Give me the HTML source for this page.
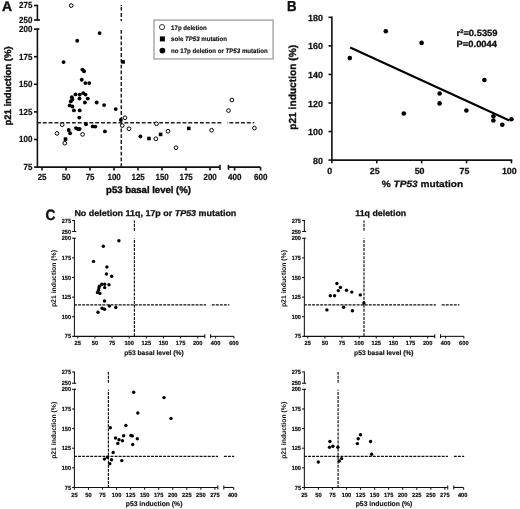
<!DOCTYPE html>
<html><head><meta charset="utf-8"><style>
html,body{margin:0;padding:0;background:#fff;}
svg{display:block;will-change:transform;}
text{font-family:"Liberation Sans",sans-serif;fill:#111;text-rendering:geometricPrecision;}
</style></head><body>
<svg width="520" height="509" viewBox="0 0 520 509">
<rect width="520" height="509" fill="#fff"/>
<line x1="37.40" y1="28.30" x2="37.40" y2="167.90" stroke="#111" stroke-width="1.6"/>
<line x1="37.40" y1="4.70" x2="37.40" y2="20.80" stroke="#111" stroke-width="1.6"/>
<line x1="34.00" y1="167.10" x2="37.40" y2="167.10" stroke="#111" stroke-width="1.6"/>
<text transform="translate(32.45,170.00) scale(0.9,1)" font-size="8.9" font-weight="bold" text-anchor="end" stroke="#111" stroke-width="0.22" >75</text>
<line x1="34.00" y1="139.50" x2="37.40" y2="139.50" stroke="#111" stroke-width="1.6"/>
<text transform="translate(32.45,142.40) scale(0.9,1)" font-size="8.9" font-weight="bold" text-anchor="end" stroke="#111" stroke-width="0.22" >100</text>
<line x1="34.00" y1="111.90" x2="37.40" y2="111.90" stroke="#111" stroke-width="1.6"/>
<text transform="translate(32.45,114.80) scale(0.9,1)" font-size="8.9" font-weight="bold" text-anchor="end" stroke="#111" stroke-width="0.22" >125</text>
<line x1="34.00" y1="84.30" x2="37.40" y2="84.30" stroke="#111" stroke-width="1.6"/>
<text transform="translate(32.45,87.20) scale(0.9,1)" font-size="8.9" font-weight="bold" text-anchor="end" stroke="#111" stroke-width="0.22" >150</text>
<line x1="34.00" y1="56.70" x2="37.40" y2="56.70" stroke="#111" stroke-width="1.6"/>
<text transform="translate(32.45,59.60) scale(0.9,1)" font-size="8.9" font-weight="bold" text-anchor="end" stroke="#111" stroke-width="0.22" >175</text>
<line x1="34.00" y1="29.10" x2="37.40" y2="29.10" stroke="#111" stroke-width="1.6"/>
<text transform="translate(32.45,32.00) scale(0.9,1)" font-size="8.9" font-weight="bold" text-anchor="end" stroke="#111" stroke-width="0.22" >200</text>
<line x1="34.00" y1="5.50" x2="37.40" y2="5.50" stroke="#111" stroke-width="1.6"/>
<text transform="translate(32.45,8.40) scale(0.9,1)" font-size="8.9" font-weight="bold" text-anchor="end" stroke="#111" stroke-width="0.22" >275</text>
<line x1="34.00" y1="20.00" x2="37.40" y2="20.00" stroke="#111" stroke-width="1.6"/>
<text transform="translate(32.45,22.90) scale(0.9,1)" font-size="8.9" font-weight="bold" text-anchor="end" stroke="#111" stroke-width="0.22" >250</text>
<line x1="37.40" y1="20.00" x2="40.00" y2="20.00" stroke="#111" stroke-width="1.6"/>
<line x1="37.40" y1="29.10" x2="39.40" y2="29.10" stroke="#111" stroke-width="1.6"/>
<line x1="36.60" y1="167.10" x2="220.00" y2="167.10" stroke="#111" stroke-width="1.6"/>
<line x1="220.00" y1="164.80" x2="220.00" y2="169.90" stroke="#111" stroke-width="1.6"/>
<line x1="228.50" y1="167.10" x2="260.60" y2="167.10" stroke="#111" stroke-width="1.6"/>
<line x1="228.50" y1="164.80" x2="228.50" y2="169.90" stroke="#111" stroke-width="1.6"/>
<line x1="42.00" y1="167.10" x2="42.00" y2="170.50" stroke="#111" stroke-width="1.6"/>
<text transform="translate(42.10,179.60) scale(0.9,1)" font-size="8.9" font-weight="bold" text-anchor="middle" stroke="#111" stroke-width="0.22" >25</text>
<line x1="66.00" y1="167.10" x2="66.00" y2="170.50" stroke="#111" stroke-width="1.6"/>
<text transform="translate(66.10,179.60) scale(0.9,1)" font-size="8.9" font-weight="bold" text-anchor="middle" stroke="#111" stroke-width="0.22" >50</text>
<line x1="90.00" y1="167.10" x2="90.00" y2="170.50" stroke="#111" stroke-width="1.6"/>
<text transform="translate(90.10,179.60) scale(0.9,1)" font-size="8.9" font-weight="bold" text-anchor="middle" stroke="#111" stroke-width="0.22" >75</text>
<line x1="114.00" y1="167.10" x2="114.00" y2="170.50" stroke="#111" stroke-width="1.6"/>
<text transform="translate(114.10,179.60) scale(0.9,1)" font-size="8.9" font-weight="bold" text-anchor="middle" stroke="#111" stroke-width="0.22" >100</text>
<line x1="138.00" y1="167.10" x2="138.00" y2="170.50" stroke="#111" stroke-width="1.6"/>
<text transform="translate(138.10,179.60) scale(0.9,1)" font-size="8.9" font-weight="bold" text-anchor="middle" stroke="#111" stroke-width="0.22" >125</text>
<line x1="162.00" y1="167.10" x2="162.00" y2="170.50" stroke="#111" stroke-width="1.6"/>
<text transform="translate(162.10,179.60) scale(0.9,1)" font-size="8.9" font-weight="bold" text-anchor="middle" stroke="#111" stroke-width="0.22" >150</text>
<line x1="186.00" y1="167.10" x2="186.00" y2="170.50" stroke="#111" stroke-width="1.6"/>
<text transform="translate(186.10,179.60) scale(0.9,1)" font-size="8.9" font-weight="bold" text-anchor="middle" stroke="#111" stroke-width="0.22" >175</text>
<line x1="210.00" y1="167.10" x2="210.00" y2="170.50" stroke="#111" stroke-width="1.6"/>
<text transform="translate(210.10,179.60) scale(0.9,1)" font-size="8.9" font-weight="bold" text-anchor="middle" stroke="#111" stroke-width="0.22" >200</text>
<line x1="234.60" y1="167.10" x2="234.60" y2="170.50" stroke="#111" stroke-width="1.6"/>
<text transform="translate(234.70,179.60) scale(0.9,1)" font-size="8.9" font-weight="bold" text-anchor="middle" stroke="#111" stroke-width="0.22" >400</text>
<line x1="260.60" y1="167.10" x2="260.60" y2="170.50" stroke="#111" stroke-width="1.6"/>
<text transform="translate(260.70,179.60) scale(0.9,1)" font-size="8.9" font-weight="bold" text-anchor="middle" stroke="#111" stroke-width="0.22" >600</text>
<text x="148.50" y="193.00" font-size="9.55" font-weight="bold" text-anchor="middle" stroke="#111" stroke-width="0.4" >p53 basal level (%)</text>
<text transform="translate(11.0,86.0) rotate(-90)" font-size="9.5" font-weight="bold" text-anchor="middle" stroke="#111" stroke-width="0.4">p21 induction (%)</text>
<line x1="37.00" y1="122.80" x2="221.30" y2="122.80" stroke="#222" stroke-width="1.5" stroke-dasharray="3.9,1.92"/>
<line x1="227.10" y1="122.80" x2="254.20" y2="122.80" stroke="#222" stroke-width="1.5" stroke-dasharray="3.9,1.92" stroke-dashoffset="3.5"/>
<line x1="121.30" y1="167.10" x2="121.30" y2="29.50" stroke="#222" stroke-width="1.5" stroke-dasharray="3.8,2.0"/>
<line x1="121.30" y1="5.10" x2="121.30" y2="21.00" stroke="#222" stroke-width="1.5" stroke-dasharray="0.8,1.2,3.5,2.4,3.9,2.0,2"/>
<rect x="154.0" y="20.1" width="119.1" height="38.85" fill="#fff" stroke="#a0a0a0" stroke-width="1.35"/>
<circle cx="162.05" cy="27.10" r="2.6" fill="#fff" stroke="#000" stroke-width="0.75"/>
<rect x="159.90" y="36.40" width="5.0" height="5.0" fill="#000"/>
<circle cx="162.40" cy="50.60" r="2.85" fill="#000"/>
<text transform="translate(171.10,29.70) scale(1,1.05)" font-size="6.1" font-weight="bold" text-anchor="start" stroke="#111" stroke-width="0.15" >17p deletion</text>
<text transform="translate(171.10,41.30) scale(1,1.05)" font-size="6.1" font-weight="bold" text-anchor="start" stroke="#111" stroke-width="0.15" >sole <tspan font-style="italic">TP53</tspan> mutation</text>
<text transform="translate(171.10,53.10) scale(1.005,1.05)" font-size="6.1" font-weight="bold" text-anchor="start" stroke="#111" stroke-width="0.15" >no 17p deletion or <tspan font-style="italic">TP53</tspan> mutation</text>
<text x="2.05" y="10.50" font-size="14" font-weight="bold" text-anchor="start" stroke="#111" stroke-width="0.4" >A</text>
<circle cx="71.20" cy="5.60" r="1.85" fill="#fff" stroke="#000" stroke-width="1.0"/>
<circle cx="62.20" cy="124.70" r="1.85" fill="#fff" stroke="#000" stroke-width="1.0"/>
<circle cx="57.00" cy="133.40" r="1.85" fill="#fff" stroke="#000" stroke-width="1.0"/>
<circle cx="64.80" cy="143.20" r="1.85" fill="#fff" stroke="#000" stroke-width="1.0"/>
<circle cx="82.60" cy="134.40" r="1.85" fill="#fff" stroke="#000" stroke-width="1.0"/>
<circle cx="125.00" cy="117.75" r="1.85" fill="#fff" stroke="#000" stroke-width="1.0"/>
<circle cx="122.25" cy="125.60" r="1.85" fill="#fff" stroke="#000" stroke-width="1.0"/>
<circle cx="129.00" cy="128.75" r="1.85" fill="#fff" stroke="#000" stroke-width="1.0"/>
<circle cx="156.50" cy="123.75" r="1.85" fill="#fff" stroke="#000" stroke-width="1.0"/>
<circle cx="155.90" cy="138.75" r="1.85" fill="#fff" stroke="#000" stroke-width="1.0"/>
<circle cx="168.00" cy="131.25" r="1.85" fill="#fff" stroke="#000" stroke-width="1.0"/>
<circle cx="176.00" cy="147.75" r="1.85" fill="#fff" stroke="#000" stroke-width="1.0"/>
<circle cx="211.60" cy="130.25" r="1.85" fill="#fff" stroke="#000" stroke-width="1.0"/>
<circle cx="231.90" cy="100.00" r="1.85" fill="#fff" stroke="#000" stroke-width="1.0"/>
<circle cx="228.50" cy="110.60" r="1.85" fill="#fff" stroke="#000" stroke-width="1.0"/>
<circle cx="254.40" cy="128.10" r="1.85" fill="#fff" stroke="#000" stroke-width="1.0"/>
<rect x="121.30" y="60.10" width="3.6" height="3.6" fill="#000"/>
<rect x="63.70" y="137.30" width="3.6" height="3.6" fill="#000"/>
<rect x="147.20" y="136.70" width="3.6" height="3.6" fill="#000"/>
<rect x="158.80" y="132.60" width="3.6" height="3.6" fill="#000"/>
<rect x="186.95" y="126.60" width="3.6" height="3.6" fill="#000"/>
<circle cx="77.25" cy="40.75" r="1.95" fill="#000"/>
<circle cx="99.60" cy="33.10" r="1.95" fill="#000"/>
<circle cx="63.60" cy="62.10" r="1.95" fill="#000"/>
<circle cx="82.40" cy="69.60" r="1.95" fill="#000"/>
<circle cx="84.00" cy="71.25" r="1.95" fill="#000"/>
<circle cx="81.75" cy="79.75" r="1.95" fill="#000"/>
<circle cx="85.40" cy="83.10" r="1.95" fill="#000"/>
<circle cx="89.25" cy="83.10" r="1.95" fill="#000"/>
<circle cx="75.50" cy="94.40" r="1.95" fill="#000"/>
<circle cx="79.70" cy="94.60" r="1.95" fill="#000"/>
<circle cx="83.20" cy="93.10" r="1.95" fill="#000"/>
<circle cx="85.50" cy="94.60" r="1.95" fill="#000"/>
<circle cx="71.80" cy="97.30" r="1.95" fill="#000"/>
<circle cx="72.40" cy="99.60" r="1.95" fill="#000"/>
<circle cx="70.80" cy="101.40" r="1.95" fill="#000"/>
<circle cx="79.50" cy="98.50" r="1.95" fill="#000"/>
<circle cx="87.80" cy="98.60" r="1.95" fill="#000"/>
<circle cx="84.90" cy="102.50" r="1.95" fill="#000"/>
<circle cx="96.70" cy="102.50" r="1.95" fill="#000"/>
<circle cx="69.70" cy="105.40" r="1.95" fill="#000"/>
<circle cx="72.40" cy="106.50" r="1.95" fill="#000"/>
<circle cx="73.90" cy="110.40" r="1.95" fill="#000"/>
<circle cx="79.70" cy="110.40" r="1.95" fill="#000"/>
<circle cx="79.30" cy="117.60" r="1.95" fill="#000"/>
<circle cx="104.10" cy="105.10" r="1.95" fill="#000"/>
<circle cx="115.70" cy="109.10" r="1.95" fill="#000"/>
<circle cx="120.90" cy="120.00" r="1.95" fill="#000"/>
<circle cx="86.00" cy="124.30" r="1.95" fill="#000"/>
<circle cx="76.00" cy="128.10" r="1.95" fill="#000"/>
<circle cx="77.80" cy="129.00" r="1.95" fill="#000"/>
<circle cx="79.60" cy="129.00" r="1.95" fill="#000"/>
<circle cx="92.70" cy="126.40" r="1.95" fill="#000"/>
<circle cx="95.30" cy="126.60" r="1.95" fill="#000"/>
<circle cx="68.70" cy="130.00" r="1.95" fill="#000"/>
<circle cx="70.10" cy="133.20" r="1.95" fill="#000"/>
<circle cx="140.40" cy="136.50" r="1.95" fill="#000"/>
<circle cx="104.90" cy="131.40" r="1.95" fill="#000"/>
<line x1="331.90" y1="16.55" x2="331.90" y2="160.90" stroke="#111" stroke-width="1.6"/>
<line x1="328.50" y1="160.10" x2="331.90" y2="160.10" stroke="#111" stroke-width="1.6"/>
<text x="322.90" y="163.60" font-size="8.9" font-weight="bold" text-anchor="end" stroke="#111" stroke-width="0.25" >80</text>
<line x1="328.50" y1="131.55" x2="331.90" y2="131.55" stroke="#111" stroke-width="1.6"/>
<text x="322.90" y="135.05" font-size="8.9" font-weight="bold" text-anchor="end" stroke="#111" stroke-width="0.25" >100</text>
<line x1="328.50" y1="103.00" x2="331.90" y2="103.00" stroke="#111" stroke-width="1.6"/>
<text x="322.90" y="106.50" font-size="8.9" font-weight="bold" text-anchor="end" stroke="#111" stroke-width="0.25" >120</text>
<line x1="328.50" y1="74.45" x2="331.90" y2="74.45" stroke="#111" stroke-width="1.6"/>
<text x="322.90" y="77.95" font-size="8.9" font-weight="bold" text-anchor="end" stroke="#111" stroke-width="0.25" >140</text>
<line x1="328.50" y1="45.90" x2="331.90" y2="45.90" stroke="#111" stroke-width="1.6"/>
<text x="322.90" y="49.40" font-size="8.9" font-weight="bold" text-anchor="end" stroke="#111" stroke-width="0.25" >160</text>
<line x1="328.50" y1="17.35" x2="331.90" y2="17.35" stroke="#111" stroke-width="1.6"/>
<text x="322.90" y="20.85" font-size="8.9" font-weight="bold" text-anchor="end" stroke="#111" stroke-width="0.25" >180</text>
<line x1="331.10" y1="160.10" x2="512.25" y2="160.10" stroke="#111" stroke-width="1.6"/>
<line x1="331.90" y1="160.10" x2="331.90" y2="163.30" stroke="#111" stroke-width="1.6"/>
<text x="329.80" y="173.50" font-size="8.9" font-weight="bold" text-anchor="middle" stroke="#111" stroke-width="0.25" >0</text>
<line x1="376.79" y1="160.10" x2="376.79" y2="163.30" stroke="#111" stroke-width="1.6"/>
<text x="374.69" y="173.50" font-size="8.9" font-weight="bold" text-anchor="middle" stroke="#111" stroke-width="0.25" >25</text>
<line x1="421.67" y1="160.10" x2="421.67" y2="163.30" stroke="#111" stroke-width="1.6"/>
<text x="419.57" y="173.50" font-size="8.9" font-weight="bold" text-anchor="middle" stroke="#111" stroke-width="0.25" >50</text>
<line x1="466.56" y1="160.10" x2="466.56" y2="163.30" stroke="#111" stroke-width="1.6"/>
<text x="464.46" y="173.50" font-size="8.9" font-weight="bold" text-anchor="middle" stroke="#111" stroke-width="0.25" >75</text>
<line x1="511.45" y1="160.10" x2="511.45" y2="163.30" stroke="#111" stroke-width="1.6"/>
<text x="509.35" y="173.50" font-size="8.9" font-weight="bold" text-anchor="middle" stroke="#111" stroke-width="0.25" >100</text>
<text transform="translate(422.50,186.50) scale(1,0.91)" font-size="10.1" font-weight="bold" text-anchor="middle" stroke="#111" stroke-width="0.3" >% <tspan font-style="italic">TP53</tspan> mutation</text>
<text transform="translate(295.6,87.35) rotate(-90)" font-size="10.2" font-weight="bold" text-anchor="middle" stroke="#111" stroke-width="0.35">p21 induction (%)</text>
<text transform="translate(456.60,35.70) scale(1,0.95)" font-size="9.4" font-weight="bold" text-anchor="start" stroke="#111" stroke-width="0.3" >r<tspan font-size="5.6" dy="-2.9">2</tspan><tspan dy="2.9">=0.5359</tspan></text>
<text transform="translate(456.60,46.90) scale(1,0.95)" font-size="9.4" font-weight="bold" text-anchor="start" stroke="#111" stroke-width="0.3" >P=0.0044</text>
<text transform="translate(286.95,11.15) scale(0.92,1.0)" font-size="14.4" font-weight="bold" text-anchor="start" stroke="#111" stroke-width="0.4" >B</text>
<line x1="350.20" y1="47.50" x2="509.40" y2="120.50" stroke="#000" stroke-width="2.1"/>
<circle cx="349.80" cy="58.10" r="2.3" fill="#000"/>
<circle cx="385.80" cy="31.20" r="2.3" fill="#000"/>
<circle cx="421.60" cy="42.90" r="2.3" fill="#000"/>
<circle cx="403.80" cy="113.50" r="2.3" fill="#000"/>
<circle cx="439.60" cy="93.50" r="2.3" fill="#000"/>
<circle cx="439.60" cy="103.40" r="2.3" fill="#000"/>
<circle cx="466.40" cy="110.50" r="2.3" fill="#000"/>
<circle cx="484.40" cy="80.00" r="2.3" fill="#000"/>
<circle cx="493.40" cy="116.30" r="2.3" fill="#000"/>
<circle cx="493.40" cy="120.50" r="2.3" fill="#000"/>
<circle cx="502.30" cy="124.80" r="2.3" fill="#000"/>
<circle cx="511.40" cy="119.20" r="2.3" fill="#000"/>
<text transform="translate(45.60,219.50) scale(0.91,1)" font-size="15" font-weight="bold" text-anchor="start" stroke="#111" stroke-width="0.4" >C</text>
<line x1="74.40" y1="237.75" x2="74.40" y2="336.85" stroke="#111" stroke-width="1.05"/>
<line x1="74.40" y1="220.00" x2="74.40" y2="232.00" stroke="#111" stroke-width="1.05"/>
<line x1="72.10" y1="336.35" x2="74.40" y2="336.35" stroke="#111" stroke-width="1.05"/>
<text transform="translate(71.05,338.40) scale(0.95,1)" font-size="5.9" font-weight="bold" text-anchor="end" stroke="#111" stroke-width="0.18" >75</text>
<line x1="72.10" y1="316.73" x2="74.40" y2="316.73" stroke="#111" stroke-width="1.05"/>
<text transform="translate(71.05,318.78) scale(0.95,1)" font-size="5.9" font-weight="bold" text-anchor="end" stroke="#111" stroke-width="0.18" >100</text>
<line x1="72.10" y1="297.11" x2="74.40" y2="297.11" stroke="#111" stroke-width="1.05"/>
<text transform="translate(71.05,299.16) scale(0.95,1)" font-size="5.9" font-weight="bold" text-anchor="end" stroke="#111" stroke-width="0.18" >125</text>
<line x1="72.10" y1="277.49" x2="74.40" y2="277.49" stroke="#111" stroke-width="1.05"/>
<text transform="translate(71.05,279.54) scale(0.95,1)" font-size="5.9" font-weight="bold" text-anchor="end" stroke="#111" stroke-width="0.18" >150</text>
<line x1="72.10" y1="257.87" x2="74.40" y2="257.87" stroke="#111" stroke-width="1.05"/>
<text transform="translate(71.05,259.92) scale(0.95,1)" font-size="5.9" font-weight="bold" text-anchor="end" stroke="#111" stroke-width="0.18" >175</text>
<line x1="72.10" y1="238.25" x2="74.40" y2="238.25" stroke="#111" stroke-width="1.05"/>
<text transform="translate(71.05,240.30) scale(0.95,1)" font-size="5.9" font-weight="bold" text-anchor="end" stroke="#111" stroke-width="0.18" >200</text>
<line x1="72.10" y1="220.50" x2="74.40" y2="220.50" stroke="#111" stroke-width="1.05"/>
<text transform="translate(71.05,222.55) scale(0.95,1)" font-size="5.9" font-weight="bold" text-anchor="end" stroke="#111" stroke-width="0.18" >275</text>
<line x1="72.10" y1="231.50" x2="74.40" y2="231.50" stroke="#111" stroke-width="1.05"/>
<text transform="translate(71.05,233.55) scale(0.95,1)" font-size="5.9" font-weight="bold" text-anchor="end" stroke="#111" stroke-width="0.18" >250</text>
<line x1="74.40" y1="231.50" x2="76.20" y2="231.50" stroke="#111" stroke-width="1.05"/>
<line x1="74.40" y1="238.25" x2="75.90" y2="238.25" stroke="#111" stroke-width="1.05"/>
<line x1="73.80" y1="336.35" x2="204.80" y2="336.35" stroke="#111" stroke-width="1.05"/>
<line x1="204.80" y1="334.35" x2="204.80" y2="338.35" stroke="#111" stroke-width="1.05"/>
<line x1="210.60" y1="336.35" x2="233.90" y2="336.35" stroke="#111" stroke-width="1.05"/>
<line x1="210.60" y1="334.35" x2="210.60" y2="338.35" stroke="#111" stroke-width="1.05"/>
<line x1="77.80" y1="336.35" x2="77.80" y2="338.55" stroke="#111" stroke-width="1.05"/>
<text transform="translate(77.80,345.35) scale(0.97,1)" font-size="5.9" font-weight="bold" text-anchor="middle" stroke="#111" stroke-width="0.18" >25</text>
<line x1="94.93" y1="336.35" x2="94.93" y2="338.55" stroke="#111" stroke-width="1.05"/>
<text transform="translate(94.93,345.35) scale(0.97,1)" font-size="5.9" font-weight="bold" text-anchor="middle" stroke="#111" stroke-width="0.18" >50</text>
<line x1="112.06" y1="336.35" x2="112.06" y2="338.55" stroke="#111" stroke-width="1.05"/>
<text transform="translate(112.06,345.35) scale(0.97,1)" font-size="5.9" font-weight="bold" text-anchor="middle" stroke="#111" stroke-width="0.18" >75</text>
<line x1="129.19" y1="336.35" x2="129.19" y2="338.55" stroke="#111" stroke-width="1.05"/>
<text transform="translate(129.19,345.35) scale(0.97,1)" font-size="5.9" font-weight="bold" text-anchor="middle" stroke="#111" stroke-width="0.18" >100</text>
<line x1="146.32" y1="336.35" x2="146.32" y2="338.55" stroke="#111" stroke-width="1.05"/>
<text transform="translate(146.32,345.35) scale(0.97,1)" font-size="5.9" font-weight="bold" text-anchor="middle" stroke="#111" stroke-width="0.18" >125</text>
<line x1="163.45" y1="336.35" x2="163.45" y2="338.55" stroke="#111" stroke-width="1.05"/>
<text transform="translate(163.45,345.35) scale(0.97,1)" font-size="5.9" font-weight="bold" text-anchor="middle" stroke="#111" stroke-width="0.18" >150</text>
<line x1="180.58" y1="336.35" x2="180.58" y2="338.55" stroke="#111" stroke-width="1.05"/>
<text transform="translate(180.58,345.35) scale(0.97,1)" font-size="5.9" font-weight="bold" text-anchor="middle" stroke="#111" stroke-width="0.18" >175</text>
<line x1="197.71" y1="336.35" x2="197.71" y2="338.55" stroke="#111" stroke-width="1.05"/>
<text transform="translate(197.71,345.35) scale(0.97,1)" font-size="5.9" font-weight="bold" text-anchor="middle" stroke="#111" stroke-width="0.18" >200</text>
<line x1="215.60" y1="336.35" x2="215.60" y2="338.55" stroke="#111" stroke-width="1.05"/>
<text transform="translate(215.60,345.35) scale(0.97,1)" font-size="5.9" font-weight="bold" text-anchor="middle" stroke="#111" stroke-width="0.18" >400</text>
<line x1="233.90" y1="336.35" x2="233.90" y2="338.55" stroke="#111" stroke-width="1.05"/>
<text transform="translate(233.90,345.35) scale(0.97,1)" font-size="5.9" font-weight="bold" text-anchor="middle" stroke="#111" stroke-width="0.18" >600</text>
<text x="153.90" y="354.95" font-size="6.7" font-weight="bold" text-anchor="middle" stroke="#111" stroke-width="0.15" >p53 basal level (%)</text>
<text transform="translate(56.00,278.55) rotate(-90)" font-size="6.85" font-weight="bold" text-anchor="middle">p21 induction (%)</text>
<line x1="74.40" y1="304.85" x2="206.00" y2="304.85" stroke="#111" stroke-width="1.15" stroke-dasharray="2.95,1.1" stroke-dashoffset="0.35"/>
<line x1="210.60" y1="304.85" x2="229.40" y2="304.85" stroke="#111" stroke-width="1.15" stroke-dasharray="2.95,1.1" stroke-dashoffset="2.9"/>
<line x1="134.40" y1="220.50" x2="134.40" y2="231.50" stroke="#111" stroke-width="1.15" stroke-dasharray="2.95,1.1" stroke-dashoffset="0.75"/>
<line x1="134.40" y1="238.55" x2="134.40" y2="336.35" stroke="#111" stroke-width="1.15" stroke-dasharray="2.95,1.1" stroke-dashoffset="2.6"/>
<circle cx="118.90" cy="240.80" r="1.7" fill="#000"/>
<circle cx="103.30" cy="246.25" r="1.7" fill="#000"/>
<circle cx="93.50" cy="261.40" r="1.7" fill="#000"/>
<circle cx="106.90" cy="267.00" r="1.7" fill="#000"/>
<circle cx="106.40" cy="274.00" r="1.7" fill="#000"/>
<circle cx="111.70" cy="276.30" r="1.7" fill="#000"/>
<circle cx="109.00" cy="284.70" r="1.7" fill="#000"/>
<circle cx="101.80" cy="284.20" r="1.7" fill="#000"/>
<circle cx="104.70" cy="284.20" r="1.7" fill="#000"/>
<circle cx="99.40" cy="286.20" r="1.7" fill="#000"/>
<circle cx="98.90" cy="288.10" r="1.7" fill="#000"/>
<circle cx="104.70" cy="287.60" r="1.7" fill="#000"/>
<circle cx="98.50" cy="290.20" r="1.7" fill="#000"/>
<circle cx="97.50" cy="292.40" r="1.7" fill="#000"/>
<circle cx="99.90" cy="293.40" r="1.7" fill="#000"/>
<circle cx="104.50" cy="301.00" r="1.7" fill="#000"/>
<circle cx="109.50" cy="306.10" r="1.7" fill="#000"/>
<circle cx="115.80" cy="307.50" r="1.7" fill="#000"/>
<circle cx="102.10" cy="308.30" r="1.7" fill="#000"/>
<circle cx="104.50" cy="309.20" r="1.7" fill="#000"/>
<circle cx="98.00" cy="312.30" r="1.7" fill="#000"/>
<line x1="304.35" y1="237.75" x2="304.35" y2="336.85" stroke="#111" stroke-width="1.05"/>
<line x1="304.35" y1="220.00" x2="304.35" y2="232.00" stroke="#111" stroke-width="1.05"/>
<line x1="302.05" y1="336.35" x2="304.35" y2="336.35" stroke="#111" stroke-width="1.05"/>
<text transform="translate(301.00,338.40) scale(0.95,1)" font-size="5.9" font-weight="bold" text-anchor="end" stroke="#111" stroke-width="0.18" >75</text>
<line x1="302.05" y1="316.73" x2="304.35" y2="316.73" stroke="#111" stroke-width="1.05"/>
<text transform="translate(301.00,318.78) scale(0.95,1)" font-size="5.9" font-weight="bold" text-anchor="end" stroke="#111" stroke-width="0.18" >100</text>
<line x1="302.05" y1="297.11" x2="304.35" y2="297.11" stroke="#111" stroke-width="1.05"/>
<text transform="translate(301.00,299.16) scale(0.95,1)" font-size="5.9" font-weight="bold" text-anchor="end" stroke="#111" stroke-width="0.18" >125</text>
<line x1="302.05" y1="277.49" x2="304.35" y2="277.49" stroke="#111" stroke-width="1.05"/>
<text transform="translate(301.00,279.54) scale(0.95,1)" font-size="5.9" font-weight="bold" text-anchor="end" stroke="#111" stroke-width="0.18" >150</text>
<line x1="302.05" y1="257.87" x2="304.35" y2="257.87" stroke="#111" stroke-width="1.05"/>
<text transform="translate(301.00,259.92) scale(0.95,1)" font-size="5.9" font-weight="bold" text-anchor="end" stroke="#111" stroke-width="0.18" >175</text>
<line x1="302.05" y1="238.25" x2="304.35" y2="238.25" stroke="#111" stroke-width="1.05"/>
<text transform="translate(301.00,240.30) scale(0.95,1)" font-size="5.9" font-weight="bold" text-anchor="end" stroke="#111" stroke-width="0.18" >200</text>
<line x1="302.05" y1="220.50" x2="304.35" y2="220.50" stroke="#111" stroke-width="1.05"/>
<text transform="translate(301.00,222.55) scale(0.95,1)" font-size="5.9" font-weight="bold" text-anchor="end" stroke="#111" stroke-width="0.18" >275</text>
<line x1="302.05" y1="231.50" x2="304.35" y2="231.50" stroke="#111" stroke-width="1.05"/>
<text transform="translate(301.00,233.55) scale(0.95,1)" font-size="5.9" font-weight="bold" text-anchor="end" stroke="#111" stroke-width="0.18" >250</text>
<line x1="304.35" y1="231.50" x2="306.15" y2="231.50" stroke="#111" stroke-width="1.05"/>
<line x1="304.35" y1="238.25" x2="305.85" y2="238.25" stroke="#111" stroke-width="1.05"/>
<line x1="303.75" y1="336.35" x2="434.75" y2="336.35" stroke="#111" stroke-width="1.05"/>
<line x1="434.75" y1="334.35" x2="434.75" y2="338.35" stroke="#111" stroke-width="1.05"/>
<line x1="440.55" y1="336.35" x2="463.85" y2="336.35" stroke="#111" stroke-width="1.05"/>
<line x1="440.55" y1="334.35" x2="440.55" y2="338.35" stroke="#111" stroke-width="1.05"/>
<line x1="307.75" y1="336.35" x2="307.75" y2="338.55" stroke="#111" stroke-width="1.05"/>
<text transform="translate(307.75,345.35) scale(0.97,1)" font-size="5.9" font-weight="bold" text-anchor="middle" stroke="#111" stroke-width="0.18" >25</text>
<line x1="324.88" y1="336.35" x2="324.88" y2="338.55" stroke="#111" stroke-width="1.05"/>
<text transform="translate(324.88,345.35) scale(0.97,1)" font-size="5.9" font-weight="bold" text-anchor="middle" stroke="#111" stroke-width="0.18" >50</text>
<line x1="342.01" y1="336.35" x2="342.01" y2="338.55" stroke="#111" stroke-width="1.05"/>
<text transform="translate(342.01,345.35) scale(0.97,1)" font-size="5.9" font-weight="bold" text-anchor="middle" stroke="#111" stroke-width="0.18" >75</text>
<line x1="359.14" y1="336.35" x2="359.14" y2="338.55" stroke="#111" stroke-width="1.05"/>
<text transform="translate(359.14,345.35) scale(0.97,1)" font-size="5.9" font-weight="bold" text-anchor="middle" stroke="#111" stroke-width="0.18" >100</text>
<line x1="376.27" y1="336.35" x2="376.27" y2="338.55" stroke="#111" stroke-width="1.05"/>
<text transform="translate(376.27,345.35) scale(0.97,1)" font-size="5.9" font-weight="bold" text-anchor="middle" stroke="#111" stroke-width="0.18" >125</text>
<line x1="393.40" y1="336.35" x2="393.40" y2="338.55" stroke="#111" stroke-width="1.05"/>
<text transform="translate(393.40,345.35) scale(0.97,1)" font-size="5.9" font-weight="bold" text-anchor="middle" stroke="#111" stroke-width="0.18" >150</text>
<line x1="410.53" y1="336.35" x2="410.53" y2="338.55" stroke="#111" stroke-width="1.05"/>
<text transform="translate(410.53,345.35) scale(0.97,1)" font-size="5.9" font-weight="bold" text-anchor="middle" stroke="#111" stroke-width="0.18" >175</text>
<line x1="427.66" y1="336.35" x2="427.66" y2="338.55" stroke="#111" stroke-width="1.05"/>
<text transform="translate(427.66,345.35) scale(0.97,1)" font-size="5.9" font-weight="bold" text-anchor="middle" stroke="#111" stroke-width="0.18" >200</text>
<line x1="445.55" y1="336.35" x2="445.55" y2="338.55" stroke="#111" stroke-width="1.05"/>
<text transform="translate(445.55,345.35) scale(0.97,1)" font-size="5.9" font-weight="bold" text-anchor="middle" stroke="#111" stroke-width="0.18" >400</text>
<line x1="463.85" y1="336.35" x2="463.85" y2="338.55" stroke="#111" stroke-width="1.05"/>
<text transform="translate(463.85,345.35) scale(0.97,1)" font-size="5.9" font-weight="bold" text-anchor="middle" stroke="#111" stroke-width="0.18" >600</text>
<text x="383.85" y="354.95" font-size="6.7" font-weight="bold" text-anchor="middle" stroke="#111" stroke-width="0.15" >p53 basal level (%)</text>
<text transform="translate(285.95,278.55) rotate(-90)" font-size="6.85" font-weight="bold" text-anchor="middle">p21 induction (%)</text>
<line x1="304.35" y1="304.85" x2="435.95" y2="304.85" stroke="#111" stroke-width="1.15" stroke-dasharray="2.95,1.1" stroke-dashoffset="0.35"/>
<line x1="440.55" y1="304.85" x2="459.35" y2="304.85" stroke="#111" stroke-width="1.15" stroke-dasharray="2.95,1.1" stroke-dashoffset="2.9"/>
<line x1="364.00" y1="220.50" x2="364.00" y2="231.50" stroke="#111" stroke-width="1.15" stroke-dasharray="2.95,1.1" stroke-dashoffset="0.75"/>
<line x1="364.00" y1="238.55" x2="364.00" y2="336.35" stroke="#111" stroke-width="1.15" stroke-dasharray="2.95,1.1" stroke-dashoffset="2.6"/>
<circle cx="336.90" cy="283.50" r="1.7" fill="#000"/>
<circle cx="340.40" cy="287.40" r="1.7" fill="#000"/>
<circle cx="338.30" cy="290.60" r="1.7" fill="#000"/>
<circle cx="346.50" cy="290.30" r="1.7" fill="#000"/>
<circle cx="351.80" cy="292.10" r="1.7" fill="#000"/>
<circle cx="330.30" cy="295.80" r="1.7" fill="#000"/>
<circle cx="334.60" cy="295.80" r="1.7" fill="#000"/>
<circle cx="360.30" cy="294.90" r="1.7" fill="#000"/>
<circle cx="363.90" cy="303.00" r="1.7" fill="#000"/>
<circle cx="343.60" cy="307.30" r="1.7" fill="#000"/>
<circle cx="326.90" cy="309.90" r="1.7" fill="#000"/>
<circle cx="352.40" cy="310.80" r="1.7" fill="#000"/>
<line x1="74.40" y1="388.85" x2="74.40" y2="487.95" stroke="#111" stroke-width="1.05"/>
<line x1="74.40" y1="371.45" x2="74.40" y2="383.75" stroke="#111" stroke-width="1.05"/>
<line x1="72.10" y1="487.45" x2="74.40" y2="487.45" stroke="#111" stroke-width="1.05"/>
<text transform="translate(71.05,489.50) scale(0.95,1)" font-size="5.9" font-weight="bold" text-anchor="end" stroke="#111" stroke-width="0.18" >75</text>
<line x1="72.10" y1="467.83" x2="74.40" y2="467.83" stroke="#111" stroke-width="1.05"/>
<text transform="translate(71.05,469.88) scale(0.95,1)" font-size="5.9" font-weight="bold" text-anchor="end" stroke="#111" stroke-width="0.18" >100</text>
<line x1="72.10" y1="448.21" x2="74.40" y2="448.21" stroke="#111" stroke-width="1.05"/>
<text transform="translate(71.05,450.26) scale(0.95,1)" font-size="5.9" font-weight="bold" text-anchor="end" stroke="#111" stroke-width="0.18" >125</text>
<line x1="72.10" y1="428.59" x2="74.40" y2="428.59" stroke="#111" stroke-width="1.05"/>
<text transform="translate(71.05,430.64) scale(0.95,1)" font-size="5.9" font-weight="bold" text-anchor="end" stroke="#111" stroke-width="0.18" >150</text>
<line x1="72.10" y1="408.97" x2="74.40" y2="408.97" stroke="#111" stroke-width="1.05"/>
<text transform="translate(71.05,411.02) scale(0.95,1)" font-size="5.9" font-weight="bold" text-anchor="end" stroke="#111" stroke-width="0.18" >175</text>
<line x1="72.10" y1="389.35" x2="74.40" y2="389.35" stroke="#111" stroke-width="1.05"/>
<text transform="translate(71.05,391.40) scale(0.95,1)" font-size="5.9" font-weight="bold" text-anchor="end" stroke="#111" stroke-width="0.18" >200</text>
<line x1="72.10" y1="371.95" x2="74.40" y2="371.95" stroke="#111" stroke-width="1.05"/>
<text transform="translate(71.05,374.00) scale(0.95,1)" font-size="5.9" font-weight="bold" text-anchor="end" stroke="#111" stroke-width="0.18" >275</text>
<line x1="72.10" y1="383.25" x2="74.40" y2="383.25" stroke="#111" stroke-width="1.05"/>
<text transform="translate(71.05,385.30) scale(0.95,1)" font-size="5.9" font-weight="bold" text-anchor="end" stroke="#111" stroke-width="0.18" >250</text>
<line x1="74.40" y1="383.25" x2="76.20" y2="383.25" stroke="#111" stroke-width="1.05"/>
<line x1="74.40" y1="389.35" x2="75.90" y2="389.35" stroke="#111" stroke-width="1.05"/>
<line x1="73.80" y1="487.45" x2="217.80" y2="487.45" stroke="#111" stroke-width="1.05"/>
<line x1="217.80" y1="485.45" x2="217.80" y2="489.45" stroke="#111" stroke-width="1.05"/>
<line x1="223.80" y1="487.45" x2="233.70" y2="487.45" stroke="#111" stroke-width="1.05"/>
<line x1="223.80" y1="485.45" x2="223.80" y2="489.45" stroke="#111" stroke-width="1.05"/>
<line x1="74.40" y1="487.45" x2="74.40" y2="489.65" stroke="#111" stroke-width="1.05"/>
<text transform="translate(74.40,496.85) scale(0.97,1)" font-size="5.9" font-weight="bold" text-anchor="middle" stroke="#111" stroke-width="0.18" >25</text>
<line x1="88.45" y1="487.45" x2="88.45" y2="489.65" stroke="#111" stroke-width="1.05"/>
<text transform="translate(88.45,496.85) scale(0.97,1)" font-size="5.9" font-weight="bold" text-anchor="middle" stroke="#111" stroke-width="0.18" >50</text>
<line x1="102.50" y1="487.45" x2="102.50" y2="489.65" stroke="#111" stroke-width="1.05"/>
<text transform="translate(102.50,496.85) scale(0.97,1)" font-size="5.9" font-weight="bold" text-anchor="middle" stroke="#111" stroke-width="0.18" >75</text>
<line x1="116.55" y1="487.45" x2="116.55" y2="489.65" stroke="#111" stroke-width="1.05"/>
<text transform="translate(116.55,496.85) scale(0.97,1)" font-size="5.9" font-weight="bold" text-anchor="middle" stroke="#111" stroke-width="0.18" >100</text>
<line x1="130.60" y1="487.45" x2="130.60" y2="489.65" stroke="#111" stroke-width="1.05"/>
<text transform="translate(130.60,496.85) scale(0.97,1)" font-size="5.9" font-weight="bold" text-anchor="middle" stroke="#111" stroke-width="0.18" >125</text>
<line x1="144.65" y1="487.45" x2="144.65" y2="489.65" stroke="#111" stroke-width="1.05"/>
<text transform="translate(144.65,496.85) scale(0.97,1)" font-size="5.9" font-weight="bold" text-anchor="middle" stroke="#111" stroke-width="0.18" >150</text>
<line x1="158.70" y1="487.45" x2="158.70" y2="489.65" stroke="#111" stroke-width="1.05"/>
<text transform="translate(158.70,496.85) scale(0.97,1)" font-size="5.9" font-weight="bold" text-anchor="middle" stroke="#111" stroke-width="0.18" >175</text>
<line x1="172.75" y1="487.45" x2="172.75" y2="489.65" stroke="#111" stroke-width="1.05"/>
<text transform="translate(172.75,496.85) scale(0.97,1)" font-size="5.9" font-weight="bold" text-anchor="middle" stroke="#111" stroke-width="0.18" >200</text>
<line x1="186.80" y1="487.45" x2="186.80" y2="489.65" stroke="#111" stroke-width="1.05"/>
<text transform="translate(186.80,496.85) scale(0.97,1)" font-size="5.9" font-weight="bold" text-anchor="middle" stroke="#111" stroke-width="0.18" >225</text>
<line x1="200.85" y1="487.45" x2="200.85" y2="489.65" stroke="#111" stroke-width="1.05"/>
<text transform="translate(200.85,496.85) scale(0.97,1)" font-size="5.9" font-weight="bold" text-anchor="middle" stroke="#111" stroke-width="0.18" >250</text>
<line x1="214.90" y1="487.45" x2="214.90" y2="489.65" stroke="#111" stroke-width="1.05"/>
<text transform="translate(214.90,496.85) scale(0.97,1)" font-size="5.9" font-weight="bold" text-anchor="middle" stroke="#111" stroke-width="0.18" >275</text>
<line x1="233.70" y1="487.45" x2="233.70" y2="489.65" stroke="#111" stroke-width="1.05"/>
<text transform="translate(232.70,496.85) scale(0.97,1)" font-size="5.9" font-weight="bold" text-anchor="middle" stroke="#111" stroke-width="0.18" >400</text>
<text x="154.10" y="506.45" font-size="6.8" font-weight="bold" text-anchor="middle" stroke="#111" stroke-width="0.15" >p53 induction (%)</text>
<text transform="translate(56.00,430.35) rotate(-90)" font-size="6.85" font-weight="bold" text-anchor="middle">p21 induction (%)</text>
<line x1="74.40" y1="456.40" x2="218.00" y2="456.40" stroke="#111" stroke-width="1.15" stroke-dasharray="2.95,1.1" stroke-dashoffset="0.35"/>
<line x1="223.20" y1="456.40" x2="234.20" y2="456.40" stroke="#111" stroke-width="1.15" stroke-dasharray="2.95,1.1" stroke-dashoffset="3.35"/>
<line x1="108.40" y1="371.95" x2="108.40" y2="383.25" stroke="#111" stroke-width="1.15" stroke-dasharray="2.95,1.1" stroke-dashoffset="0.25"/>
<line x1="108.40" y1="389.65" x2="108.40" y2="487.45" stroke="#111" stroke-width="1.15" stroke-dasharray="2.95,1.1" stroke-dashoffset="1.75"/>
<circle cx="133.70" cy="392.30" r="1.7" fill="#000"/>
<circle cx="164.00" cy="397.60" r="1.7" fill="#000"/>
<circle cx="137.80" cy="413.00" r="1.7" fill="#000"/>
<circle cx="171.00" cy="418.40" r="1.7" fill="#000"/>
<circle cx="125.90" cy="425.50" r="1.7" fill="#000"/>
<circle cx="110.30" cy="427.70" r="1.7" fill="#000"/>
<circle cx="123.60" cy="435.70" r="1.7" fill="#000"/>
<circle cx="130.90" cy="435.50" r="1.7" fill="#000"/>
<circle cx="132.30" cy="435.90" r="1.7" fill="#000"/>
<circle cx="137.30" cy="438.75" r="1.7" fill="#000"/>
<circle cx="115.50" cy="438.00" r="1.7" fill="#000"/>
<circle cx="119.00" cy="439.70" r="1.7" fill="#000"/>
<circle cx="122.40" cy="440.70" r="1.7" fill="#000"/>
<circle cx="117.80" cy="443.40" r="1.7" fill="#000"/>
<circle cx="132.70" cy="444.50" r="1.7" fill="#000"/>
<circle cx="113.20" cy="452.50" r="1.7" fill="#000"/>
<circle cx="107.40" cy="457.20" r="1.7" fill="#000"/>
<circle cx="104.40" cy="459.10" r="1.7" fill="#000"/>
<circle cx="111.50" cy="459.70" r="1.7" fill="#000"/>
<circle cx="121.80" cy="460.60" r="1.7" fill="#000"/>
<circle cx="109.80" cy="463.70" r="1.7" fill="#000"/>
<line x1="304.35" y1="388.85" x2="304.35" y2="487.95" stroke="#111" stroke-width="1.05"/>
<line x1="304.35" y1="371.45" x2="304.35" y2="383.75" stroke="#111" stroke-width="1.05"/>
<line x1="302.05" y1="487.45" x2="304.35" y2="487.45" stroke="#111" stroke-width="1.05"/>
<text transform="translate(301.00,489.50) scale(0.95,1)" font-size="5.9" font-weight="bold" text-anchor="end" stroke="#111" stroke-width="0.18" >75</text>
<line x1="302.05" y1="467.83" x2="304.35" y2="467.83" stroke="#111" stroke-width="1.05"/>
<text transform="translate(301.00,469.88) scale(0.95,1)" font-size="5.9" font-weight="bold" text-anchor="end" stroke="#111" stroke-width="0.18" >100</text>
<line x1="302.05" y1="448.21" x2="304.35" y2="448.21" stroke="#111" stroke-width="1.05"/>
<text transform="translate(301.00,450.26) scale(0.95,1)" font-size="5.9" font-weight="bold" text-anchor="end" stroke="#111" stroke-width="0.18" >125</text>
<line x1="302.05" y1="428.59" x2="304.35" y2="428.59" stroke="#111" stroke-width="1.05"/>
<text transform="translate(301.00,430.64) scale(0.95,1)" font-size="5.9" font-weight="bold" text-anchor="end" stroke="#111" stroke-width="0.18" >150</text>
<line x1="302.05" y1="408.97" x2="304.35" y2="408.97" stroke="#111" stroke-width="1.05"/>
<text transform="translate(301.00,411.02) scale(0.95,1)" font-size="5.9" font-weight="bold" text-anchor="end" stroke="#111" stroke-width="0.18" >175</text>
<line x1="302.05" y1="389.35" x2="304.35" y2="389.35" stroke="#111" stroke-width="1.05"/>
<text transform="translate(301.00,391.40) scale(0.95,1)" font-size="5.9" font-weight="bold" text-anchor="end" stroke="#111" stroke-width="0.18" >200</text>
<line x1="302.05" y1="371.95" x2="304.35" y2="371.95" stroke="#111" stroke-width="1.05"/>
<text transform="translate(301.00,374.00) scale(0.95,1)" font-size="5.9" font-weight="bold" text-anchor="end" stroke="#111" stroke-width="0.18" >275</text>
<line x1="302.05" y1="383.25" x2="304.35" y2="383.25" stroke="#111" stroke-width="1.05"/>
<text transform="translate(301.00,385.30) scale(0.95,1)" font-size="5.9" font-weight="bold" text-anchor="end" stroke="#111" stroke-width="0.18" >250</text>
<line x1="304.35" y1="383.25" x2="306.15" y2="383.25" stroke="#111" stroke-width="1.05"/>
<line x1="304.35" y1="389.35" x2="305.85" y2="389.35" stroke="#111" stroke-width="1.05"/>
<line x1="303.75" y1="487.45" x2="447.75" y2="487.45" stroke="#111" stroke-width="1.05"/>
<line x1="447.75" y1="485.45" x2="447.75" y2="489.45" stroke="#111" stroke-width="1.05"/>
<line x1="453.75" y1="487.45" x2="463.65" y2="487.45" stroke="#111" stroke-width="1.05"/>
<line x1="453.75" y1="485.45" x2="453.75" y2="489.45" stroke="#111" stroke-width="1.05"/>
<line x1="304.35" y1="487.45" x2="304.35" y2="489.65" stroke="#111" stroke-width="1.05"/>
<text transform="translate(304.35,496.85) scale(0.97,1)" font-size="5.9" font-weight="bold" text-anchor="middle" stroke="#111" stroke-width="0.18" >25</text>
<line x1="318.40" y1="487.45" x2="318.40" y2="489.65" stroke="#111" stroke-width="1.05"/>
<text transform="translate(318.40,496.85) scale(0.97,1)" font-size="5.9" font-weight="bold" text-anchor="middle" stroke="#111" stroke-width="0.18" >50</text>
<line x1="332.45" y1="487.45" x2="332.45" y2="489.65" stroke="#111" stroke-width="1.05"/>
<text transform="translate(332.45,496.85) scale(0.97,1)" font-size="5.9" font-weight="bold" text-anchor="middle" stroke="#111" stroke-width="0.18" >75</text>
<line x1="346.50" y1="487.45" x2="346.50" y2="489.65" stroke="#111" stroke-width="1.05"/>
<text transform="translate(346.50,496.85) scale(0.97,1)" font-size="5.9" font-weight="bold" text-anchor="middle" stroke="#111" stroke-width="0.18" >100</text>
<line x1="360.55" y1="487.45" x2="360.55" y2="489.65" stroke="#111" stroke-width="1.05"/>
<text transform="translate(360.55,496.85) scale(0.97,1)" font-size="5.9" font-weight="bold" text-anchor="middle" stroke="#111" stroke-width="0.18" >125</text>
<line x1="374.60" y1="487.45" x2="374.60" y2="489.65" stroke="#111" stroke-width="1.05"/>
<text transform="translate(374.60,496.85) scale(0.97,1)" font-size="5.9" font-weight="bold" text-anchor="middle" stroke="#111" stroke-width="0.18" >150</text>
<line x1="388.65" y1="487.45" x2="388.65" y2="489.65" stroke="#111" stroke-width="1.05"/>
<text transform="translate(388.65,496.85) scale(0.97,1)" font-size="5.9" font-weight="bold" text-anchor="middle" stroke="#111" stroke-width="0.18" >175</text>
<line x1="402.70" y1="487.45" x2="402.70" y2="489.65" stroke="#111" stroke-width="1.05"/>
<text transform="translate(402.70,496.85) scale(0.97,1)" font-size="5.9" font-weight="bold" text-anchor="middle" stroke="#111" stroke-width="0.18" >200</text>
<line x1="416.75" y1="487.45" x2="416.75" y2="489.65" stroke="#111" stroke-width="1.05"/>
<text transform="translate(416.75,496.85) scale(0.97,1)" font-size="5.9" font-weight="bold" text-anchor="middle" stroke="#111" stroke-width="0.18" >225</text>
<line x1="430.80" y1="487.45" x2="430.80" y2="489.65" stroke="#111" stroke-width="1.05"/>
<text transform="translate(430.80,496.85) scale(0.97,1)" font-size="5.9" font-weight="bold" text-anchor="middle" stroke="#111" stroke-width="0.18" >250</text>
<line x1="444.85" y1="487.45" x2="444.85" y2="489.65" stroke="#111" stroke-width="1.05"/>
<text transform="translate(444.85,496.85) scale(0.97,1)" font-size="5.9" font-weight="bold" text-anchor="middle" stroke="#111" stroke-width="0.18" >275</text>
<line x1="463.65" y1="487.45" x2="463.65" y2="489.65" stroke="#111" stroke-width="1.05"/>
<text transform="translate(462.65,496.85) scale(0.97,1)" font-size="5.9" font-weight="bold" text-anchor="middle" stroke="#111" stroke-width="0.18" >400</text>
<text x="384.05" y="506.45" font-size="6.8" font-weight="bold" text-anchor="middle" stroke="#111" stroke-width="0.15" >p53 induction (%)</text>
<text transform="translate(285.95,430.35) rotate(-90)" font-size="6.85" font-weight="bold" text-anchor="middle">p21 induction (%)</text>
<line x1="304.35" y1="456.40" x2="447.95" y2="456.40" stroke="#111" stroke-width="1.15" stroke-dasharray="2.95,1.1" stroke-dashoffset="0.35"/>
<line x1="453.15" y1="456.40" x2="464.15" y2="456.40" stroke="#111" stroke-width="1.15" stroke-dasharray="2.95,1.1" stroke-dashoffset="3.35"/>
<line x1="338.10" y1="371.95" x2="338.10" y2="383.25" stroke="#111" stroke-width="1.15" stroke-dasharray="2.95,1.1" stroke-dashoffset="0.25"/>
<line x1="338.10" y1="389.65" x2="338.10" y2="487.45" stroke="#111" stroke-width="1.15" stroke-dasharray="2.95,1.1" stroke-dashoffset="1.75"/>
<circle cx="329.90" cy="441.50" r="1.7" fill="#000"/>
<circle cx="329.50" cy="447.30" r="1.7" fill="#000"/>
<circle cx="332.90" cy="446.20" r="1.7" fill="#000"/>
<circle cx="337.90" cy="447.30" r="1.7" fill="#000"/>
<circle cx="360.50" cy="434.80" r="1.7" fill="#000"/>
<circle cx="358.20" cy="438.80" r="1.7" fill="#000"/>
<circle cx="357.40" cy="443.60" r="1.7" fill="#000"/>
<circle cx="370.60" cy="441.50" r="1.7" fill="#000"/>
<circle cx="371.60" cy="454.30" r="1.7" fill="#000"/>
<circle cx="318.30" cy="462.00" r="1.7" fill="#000"/>
<circle cx="341.60" cy="458.60" r="1.7" fill="#000"/>
<circle cx="339.30" cy="461.00" r="1.7" fill="#000"/>
<text transform="translate(74.40,216.00) scale(1,0.95)" font-size="8.95" font-weight="bold" text-anchor="start" stroke="#111" stroke-width="0.28" >No deletion 11q, 17p or <tspan font-style="italic">TP53</tspan> mutation</text>
<text transform="translate(355.30,216.00) scale(1,0.95)" font-size="8.8" font-weight="bold" text-anchor="start" stroke="#111" stroke-width="0.28" >11q deletion</text>
</svg>
</body></html>
